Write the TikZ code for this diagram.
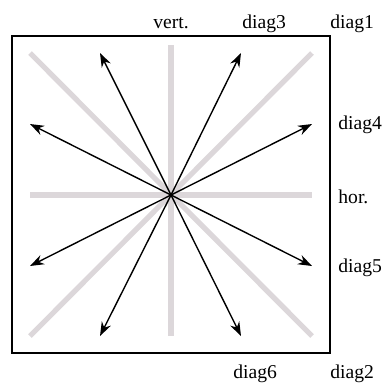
\documentclass[tikz,border=0pt]{standalone}
\usepackage{fontspec}
\setmainfont{Liberation Serif}
\usetikzlibrary{arrows.meta}

\begin{document}
\begin{tikzpicture}[x=0.5pt, y=-0.5pt,
  guide/.style={line width=2.6pt, color=guidegray},
  vec/.style={line width=0.7pt, -{Stealth[length=7pt, width=5pt]}},
  lbl/.style={anchor=base west, inner sep=0pt, font=\fontsize{9.8}{12}\selectfont}]
\definecolor{guidegray}{RGB}{220,215,218}
\useasboundingbox (0,0) rectangle (385,382);

\coordinate (o) at (171,195);

% ends of the gray guide lines
\coordinate (gn) at (171,45);
\coordinate (gs) at (171,336);
\coordinate (gw) at (30,195);
\coordinate (ge) at (312,195);
\coordinate (gnw) at (30,53);
\coordinate (gne) at (312,53);
\coordinate (gsw) at (30,336);
\coordinate (gse) at (312,336);

% arrow tips
\coordinate (t1) at (100,53);
\coordinate (t2) at (241,53);
\coordinate (t3) at (30,124);
\coordinate (t4) at (312,124);
\coordinate (t5) at (30,266);
\coordinate (t6) at (312,266);
\coordinate (t7) at (100,336);
\coordinate (t8) at (241,336);

\node[lbl] (vert) at (153,28) {vert.};
\node[lbl] (diag3) at (242,28) {diag3};
\node[lbl] (diag1) at (330,28) {diag1};
\node[lbl] (diag4) at (338,129) {diag4};
\node[lbl] (hor) at (338,203) {hor.};
\node[lbl] (diag5) at (338,272) {diag5};
\node[lbl] (diag6) at (233,378) {diag6};
\node[lbl] (diag2) at (330,378) {diag2};

\draw[guide] (gn) -- (gs);
\draw[guide] (gw) -- (ge);
\draw[guide] (gnw) -- (gse);
\draw[guide] (gne) -- (gsw);

\draw[line width=0.75pt] (12,36) rectangle (330,353);

\foreach \t in {t1,t2,t3,t4,t5,t6,t7,t8}
  \draw[vec] (o) -- (\t);

\end{tikzpicture}
\end{document}
